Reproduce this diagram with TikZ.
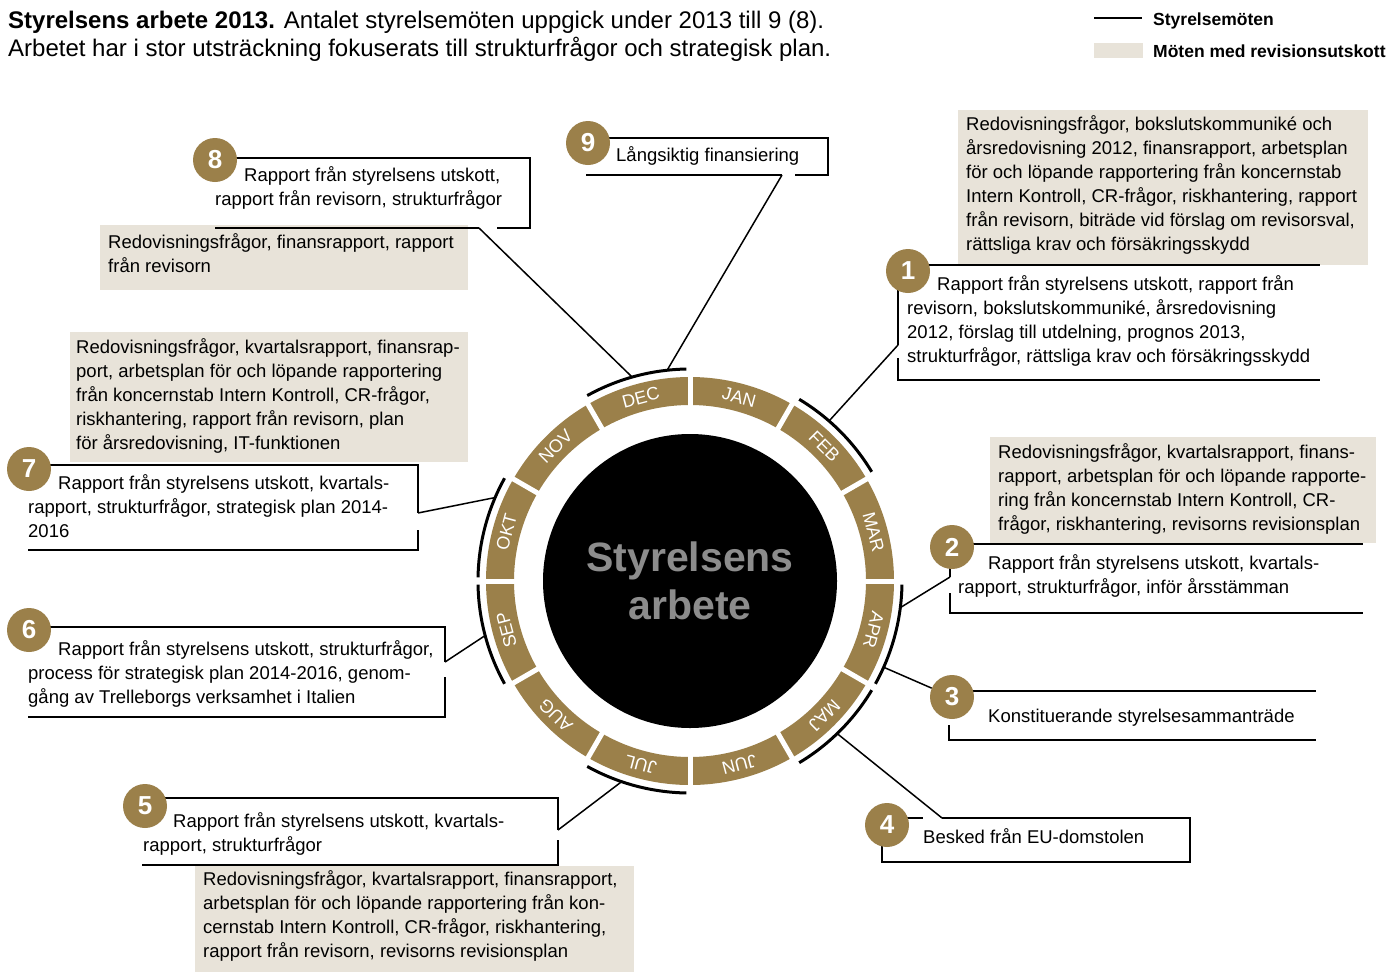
\documentclass[tikz,border=0pt]{standalone}
\usepackage{fontspec}
\setmainfont{Liberation Sans}
\usetikzlibrary{positioning,calc}
\definecolor{gold}{RGB}{155,128,74}
\definecolor{sand}{RGB}{232,227,217}
\definecolor{hubgray}{RGB}{140,140,140}

\begin{document}
\begin{tikzpicture}[x=1pt,y=1pt,
    num/.style={circle, fill=gold, minimum size=44pt, inner sep=0pt, text=white, font=\fontsize{26}{26}\selectfont\bfseries},
    note/.style={anchor=base west, inner sep=0pt, align=left, font=\fontsize{18.5}{24}\selectfont},
    bracket/.style={line width=2pt},
    lead/.style={line width=1.5pt},
    meet/.style={line width=3pt},
    month/.style={text=white, inner sep=0pt, font=\fontsize{18}{18}\selectfont}]
    \useasboundingbox (0,0) rectangle (1400,-972);
    \fill[white] (0,0) rectangle (1400,-972);

    % heading and legend (notes sit on the baseline of their last line)
    \node[note, font=\fontsize{24}{28}\selectfont] (head) at (8,-56) {\textbf{Styrelsens arbete 2013.} Antalet styrelsemöten uppgick under 2013 till 9 (8).\\Arbetet har i stor utsträckning fokuserats till strukturfrågor och strategisk plan.};
    \draw[line width=2pt] (1094,-18) -- (1142,-18);
    \fill[sand] (1094,-43) rectangle (1143,-58);
    \node[note, font=\fontsize{17.5}{20}\selectfont\bfseries] (leg1) at (1153,-25) {Styrelsemöten};
    \node[note, font=\fontsize{17.5}{20}\selectfont\bfseries] (leg2) at (1153,-57) {Möten med revisionsutskott};

    % revisionsutskott
    \fill[sand] (958,-110) rectangle (1368,-265);
    \fill[sand] (990,-437) rectangle (1376,-543);
    \fill[sand] (100,-225) rectangle (468,-290);
    \fill[sand] (70,-332) rectangle (468,-462);
    \fill[sand] (195,-866) rectangle (634,-972);
    \node[note] (r1) at (966,-250) {Redovisningsfrågor, bokslutskommuniké och\\årsredovisning 2012, finansrapport, arbetsplan\\för och löpande rapportering från koncernstab\\Intern Kontroll, CR-frågor, riskhantering, rapport\\från revisorn, biträde vid förslag om revisorsval,\\rättsliga krav och försäkringsskydd};
    \node[note] (r2) at (998,-530) {Redovisningsfrågor, kvartalsrapport, finans-\\rapport, arbetsplan för och löpande rapporte-\\ring från koncernstab Intern Kontroll, CR-\\frågor, riskhantering, revisorns revisionsplan};
    \node[note] (r3) at (108,-272) {Redovisningsfrågor, finansrapport, rapport\\från revisorn};
    \node[note] (r4) at (76,-449) {Redovisningsfrågor, kvartalsrapport, finansrap-\\port, arbetsplan för och löpande rapportering\\från koncernstab Intern Kontroll, CR-frågor,\\riskhantering, rapport från revisorn, plan\\för årsredovisning, IT-funktionen};
    \node[note] (r5) at (203,-957) {Redovisningsfrågor, kvartalsrapport, finansrapport,\\arbetsplan för och löpande rapportering från kon-\\cernstab Intern Kontroll, CR-frågor, riskhantering,\\rapport från revisorn, revisorns revisionsplan};

    % ring
    \coordinate (O) at (690,-581);
    \foreach \m [count=\i] in {JAN,FEB,MAR,APR,MAJ,JUN,JUL,AUG,SEP,OKT,NOV,DEC}{
        \pgfmathsetmacro\a{120-30*\i}
        \draw[gold, line width=28pt] ([shift={(\a:190)}]O) arc[start angle=\a, end angle=\a-30, radius=190];
        \node[month, rotate=\a-105] (mo\i) at ([shift={(\a-15:190)}]O) {\m};
    }
    \foreach \a in {0,30,...,330}
        \draw[white, line width=5pt] ([shift={(\a:172)}]O) -- ([shift={(\a:207)}]O);
    \node[circle, fill=black, minimum size=294pt, inner sep=0pt, text=hubgray, align=center,
          font=\fontsize{41}{48}\selectfont\bfseries] (hub) at (O) {Styrelsens\\arbete};

    % meetings per month
    \foreach \s in {120,60,0,-30,-90,210,180}
        \draw[meet] ([shift={(\s-1:212)}]O) arc[start angle=\s-1, end angle=\s-29, radius=212];

    \coordinate (a1) at ([shift={(49:213)}]O);
    \coordinate (a2) at ([shift={(-7:213)}]O);
    \coordinate (a3) at ([shift={(-24:213)}]O);
    \coordinate (a4) at ([shift={(-46:213)}]O);
    \coordinate (a5) at ([shift={(-109:213)}]O);
    \coordinate (a6) at ([shift={(195:213)}]O);
    \coordinate (a7) at ([shift={(157:213)}]O);
    \coordinate (a8) at ([shift={(106:213)}]O);
    \coordinate (a9) at ([shift={(96:213)}]O);

    \coordinate (c1) at (898,-345);
    \coordinate (c2) at (950,-577);
    \coordinate (c4) at (942,-818);
    \coordinate (c5) at (558,-830);
    \coordinate (c6) at (445,-662);
    \coordinate (c7) at (418,-513);
    \coordinate (c8) at (479,-228);
    \coordinate (c9) at (782,-175);

    % brackets
    \draw[bracket] (908,-265) -- (1320,-265);
    \draw[bracket] (898,-285) -- (c1);
    \draw[bracket] (898,-358) -- (898,-380) -- (1320,-380);
    \draw[bracket] (952,-544) -- (1363,-544);
    \draw[bracket] (950,-560) -- (c2);
    \draw[bracket] (950,-593) -- (950,-613) -- (1363,-613);
    \draw[bracket] (952,-691) -- (1316,-691);
    \draw[bracket] (949,-725) -- (949,-740) -- (1316,-740);
    \draw[bracket] (887,-818) -- (923,-818);
    \draw[bracket] (c4) -- (1190,-818) -- (1190,-862) -- (882,-862) -- (882,-845);
    \draw[bracket] (145,-798) -- (558,-798) -- (c5);
    \draw[bracket] (558,-840) -- (558,-865) -- (142,-865);
    \draw[bracket] (29,-627) -- (445,-627) -- (c6);
    \draw[bracket] (445,-677) -- (445,-717) -- (28,-717);
    \draw[bracket] (29,-465) -- (418,-465) -- (c7);
    \draw[bracket] (418,-530) -- (418,-550) -- (28,-550);
    \draw[bracket] (215,-228) -- (c8);
    \draw[bracket] (497,-228) -- (530,-228) -- (530,-158) -- (215,-158);
    \draw[bracket] (586,-175) -- (c9);
    \draw[bracket] (795,-175) -- (828,-175) -- (828,-138) -- (588,-138);

    % numbers
    \node[num] (m1) at (908,-271) {1};
    \node[num] (m2) at (952,-547) {2};
    \node[num] (m3) at (952,-697) {3};
    \node[num] (m4) at (887,-825) {4};
    \node[num] (m5) at (145,-806) {5};
    \node[num] (m6) at (29,-630) {6};
    \node[num] (m7) at (29,-469) {7};
    \node[num] (m8) at (215,-160) {8};
    \node[num] (m9) at (588,-143) {9};

    % styrelsemöten
    \node[note] (t1) at (907,-362) {\hspace*{30pt}Rapport från styrelsens utskott, rapport från\\revisorn, bokslutskommuniké, årsredovisning\\2012, förslag till utdelning, prognos 2013,\\strukturfrågor, rättsliga krav och försäkringsskydd};
    \node[note] (t2) at (958,-593) {\hspace*{30pt}Rapport från styrelsens utskott, kvartals-\\rapport, strukturfrågor, inför årsstämman};
    \node[note] (t3) at (988,-722) {Konstituerande styrelsesammanträde};
    \node[note] (t4) at (923,-843) {Besked från EU-domstolen};
    \node[note] (t5) at (143,-851) {\hspace*{30pt}Rapport från styrelsens utskott, kvartals-\\rapport, strukturfrågor};
    \node[note] (t6) at (28,-703) {\hspace*{30pt}Rapport från styrelsens utskott, strukturfrågor,\\process för strategisk plan 2014-2016, genom-\\gång av Trelleborgs verksamhet i Italien};
    \node[note] (t7) at (28,-537) {\hspace*{30pt}Rapport från styrelsens utskott, kvartals-\\rapport, strukturfrågor, strategisk plan 2014-\\2016};
    \node[note] (t8) at (215,-205) {\hspace*{29pt}Rapport från styrelsens utskott,\\rapport från revisorn, strukturfrågor};
    \node[note] (t9) at (616,-161) {Långsiktig finansiering};

    % leaders
    \draw[lead] (c1) -- (a1);
    \draw[lead] (c2) -- (a2);
    \draw[lead] (a3) -- (m3);
    \draw[lead] (a4) -- (c4);
    \draw[lead] (c5) -- (a5);
    \draw[lead] (c6) -- (a6);
    \draw[lead] (c7) -- (a7);
    \draw[lead] (c8) -- (a8);
    \draw[lead] (c9) -- (a9);
\end{tikzpicture}
\end{document}
